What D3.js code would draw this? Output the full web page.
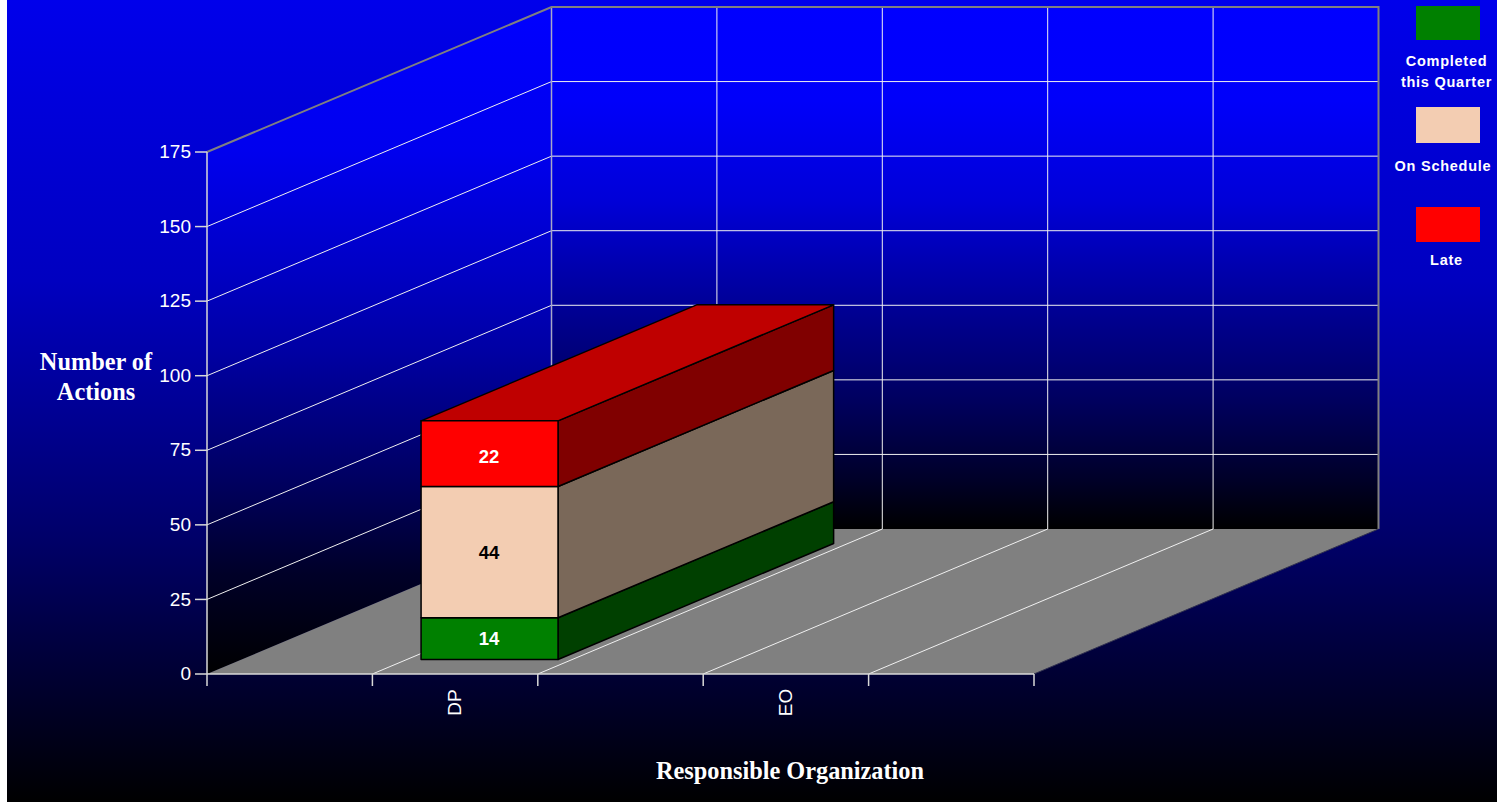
<!DOCTYPE html>
<html>
<head>
<meta charset="utf-8">
<script src="https://cdnjs.cloudflare.com/ajax/libs/d3/7.8.5/d3.min.js"></script>
<style>
  html, body { margin: 0; padding: 0; background: #fff; overflow: hidden; }
  svg { display: block; }
  text { font-family: "Liberation Sans", Arial, sans-serif; }
  .serif { font-family: "Liberation Serif", "Times New Roman", serif; font-weight: bold; fill: #fff; font-size: 24.3px; }
</style>
</head>
<body>
<svg id="chart" width="1497" height="802"></svg>
<script>
// Chart data
const slots = ["a", "DP", "b", "EO", "c"];
const categories = ["DP", "EO"];
const seriesNames = ["Completed this Quarter", "On Schedule", "Late"];
const completed = [14, null];
const onSchedule = [44, null];
const late = [22, null];
const yTicks = [0, 25, 50, 75, 100, 125, 150, 175];
const frontColors = ["#008000", "#f3cdb2", "#ff0000"];
const sideColors = ["#004000", "#7a6859", "#800000"];
const topColors = ["#005f00", "#b59985", "#bf0000"];
const labelColors = ["#fff", "#000", "#fff"];
const labelNudge = [0, 0, 3];
const legendLines = [["Completed", "this Quarter"], ["On Schedule"], ["Late"]];

// Blue falloff of the page and of the chart walls: [offset, blue channel]
const pageFade = [[0, 235], [0.35, 192], [0.67, 105], [0.86, 45], [1, 0]];
const backWallFade = [[0, 255], [0.18, 250], [0.37, 216], [0.56, 154], [0.75, 96], [0.906, 40], [1, 0]];
const sideWallFade = [[0, 255], [0.217, 238], [0.4, 195], [0.51, 165], [0.7, 100], [0.85, 40], [1, 0]];

const svg = d3.select("#chart");
const defs = svg.append("defs");
function addFade(id, stops) {
  const g = defs.append("linearGradient").attr("id", id)
    .attr("x1", 0).attr("y1", 0).attr("x2", 0).attr("y2", 1);
  stops.forEach(([o, b]) => g.append("stop").attr("offset", o).attr("stop-color", `rgb(0,0,${b})`));
}
addFade("pageFade", pageFade);
addFade("backWallFade", backWallFade);
addFade("sideWallFade", sideWallFade);

// Scales: value height, category position across the floor, and depth into the scene
const y = d3.scaleLinear().domain([0, 175]).range([674, 152]);
const xEdge = d3.scaleLinear().domain([0, 5]).range([207, 1034]);
const x = d3.scaleBand().domain(slots).range([207, 1034]).paddingInner(0.172).paddingOuter(0.086);
const depthX = d3.scaleLinear().domain([0, 1]).range([0, 344.5]);
const depthY = d3.scaleLinear().domain([0, 1]).range([0, -145]);
const project = (px, py, d) => [px + depthX(d), py + depthY(d)];
const polygon = pts => pts.map(p => p.join(",")).join(" ");

// Page backdrop
svg.append("rect").attr("x", 7).attr("y", 0).attr("width", 1490).attr("height", 802)
  .attr("fill", "url(#pageFade)");

const x0 = xEdge(0), x1 = xEdge(5), y0 = y(0), yTop = y(175);

// Walls and floor
svg.append("rect").attr("x", x0 + depthX(1)).attr("y", yTop + depthY(1))
  .attr("width", x1 - x0).attr("height", y0 - yTop).attr("fill", "url(#backWallFade)");
svg.append("polygon").attr("fill", "url(#sideWallFade)")
  .attr("points", polygon([[x0, yTop], project(x0, yTop, 1), project(x0, y0, 1), [x0, y0]]));
svg.append("polygon").attr("fill", "#808080")
  .attr("points", polygon([[x0, y0], [x1, y0], project(x1, y0, 1), project(x0, y0, 1)]));

// Grid lines on both walls
const grid = svg.append("g").attr("fill", "none").attr("stroke-width", 1);
yTicks.filter(t => t > 0 && t < 175).forEach(t => {
  grid.append("polyline").attr("stroke", "#f0f0f0")
    .attr("points", polygon([[x0, y(t)], project(x0, y(t), 1), project(x1, y(t), 1)]));
});
d3.range(1, 5).forEach(i => {
  grid.append("polyline").attr("stroke", "#f0f0f0")
    .attr("points", polygon([[xEdge(i), y0], project(xEdge(i), y0, 1), project(xEdge(i), yTop, 1)]));
});
grid.append("line").attr("stroke", "#a8a8c8").attr("stroke-width", 1.5)
  .attr("x1", x0 + depthX(1)).attr("x2", x0 + depthX(1)).attr("y1", y0 + depthY(1)).attr("y2", yTop + depthY(1));
grid.append("polyline").attr("stroke", "#808080").attr("stroke-width", 2)
  .attr("points", polygon([[x0, yTop], project(x0, yTop, 1), project(x1, yTop, 1), project(x1, y0, 1)]));
grid.append("line").attr("stroke", "#303050")
  .attr("x1", x1).attr("y1", y0).attr("x2", x1 + depthX(1)).attr("y2", y0 + depthY(1));

// Axes
const yAxis = d3.axisLeft(y).offset(0).tickValues(yTicks).tickSize(12).tickPadding(4).tickSizeOuter(0);
const yG = svg.append("g").attr("transform", `translate(${x0},0)`).call(yAxis);
yG.selectAll("line,path").attr("stroke", "#d8d8d8").attr("stroke-width", 1.5);
yG.selectAll("text").attr("fill", "#fff").style("font-size", "19px").style("font-family", "'Liberation Sans', Arial, sans-serif");

const xAxis = d3.axisBottom(xEdge).offset(0).tickValues(d3.range(0, 6)).tickSize(12).tickSizeOuter(0).tickFormat("");
const xG = svg.append("g").attr("transform", `translate(0,${y0})`).call(xAxis);
xG.selectAll("line,path").attr("stroke", "#d8d8d8").attr("stroke-width", 1.5);

categories.forEach(c => {
  svg.append("text").text(c)
    .attr("transform", `translate(${x(c) + x.bandwidth() / 2 - 1},${y0 + 28.5}) rotate(-90)`)
    .attr("text-anchor", "middle").attr("dy", "0.36em")
    .attr("fill", "#fff").style("font-size", "19px");
});

// Stacked 3D column, one segment per series
const table = categories.map((c, i) => ({
  category: c,
  completed: completed[i], onSchedule: onSchedule[i], late: late[i]
}));
const keys = ["completed", "onSchedule", "late"];
const stacked = d3.stack().keys(keys)(table);
const near = 0.1, far = 0.9;
const bars = svg.append("g").attr("stroke", "#000").attr("stroke-width", 1.5).attr("stroke-linejoin", "round");

stacked.forEach((layer, s) => {
  layer.forEach(seg => {
    const v = seg.data[keys[s]];
    if (v == null) return;
    const left = x(seg.data.category), right = left + x.bandwidth();
    const lo = y(seg[0]), hi = y(seg[1]);
    bars.append("polygon").attr("fill", sideColors[s]).attr("points", polygon([
      project(right, lo, near), project(right, lo, far), project(right, hi, far), project(right, hi, near)]));
    if (s === keys.length - 1) {
      bars.append("polygon").attr("fill", topColors[s]).attr("points", polygon([
        project(left, hi, near), project(right, hi, near), project(right, hi, far), project(left, hi, far)]));
    }
    const corner = project(left, hi, near);
    bars.append("rect").attr("fill", frontColors[s])
      .attr("x", corner[0]).attr("y", corner[1])
      .attr("width", x.bandwidth()).attr("height", lo - hi);
    svg.append("text").text(v)
      .attr("x", corner[0] + x.bandwidth() / 2 - 0.5).attr("y", corner[1] + (lo - hi) / 2 + labelNudge[s])
      .attr("dy", "0.36em").attr("text-anchor", "middle")
      .attr("fill", labelColors[s]).style("font-size", "18.5px").style("font-weight", "bold");
  });
});

// Axis titles
const yTitle = svg.append("text").attr("class", "serif").attr("text-anchor", "middle");
yTitle.append("tspan").attr("x", 96).attr("y", 370).text("Number of");
yTitle.append("tspan").attr("x", 96).attr("y", 400).text("Actions");
svg.append("text").attr("class", "serif").attr("text-anchor", "middle")
  .attr("x", 790).attr("y", 779).text("Responsible Organization");

// Legend
const swatchTops = [6, 107, 207];
const swatchHeights = [34, 36, 35];
const textTops = [[66, 87], [171], [265]];
seriesNames.forEach((name, i) => {
  svg.append("rect").attr("x", 1416).attr("y", swatchTops[i]).attr("width", 64).attr("height", swatchHeights[i])
    .attr("fill", frontColors[i]);
  legendLines[i].forEach((line, j) => {
    svg.append("text").text(line)
      .attr("x", 1446.5 + (i === 0 ? 0 : i === 1 ? -3.5 : 0)).attr("y", textTops[i][j])
      .attr("text-anchor", "middle").attr("fill", "#fff")
      .style("font-size", "14.5px").style("font-weight", "bold").style("letter-spacing", "0.75px");
  });
});
</script>
</body>
</html>
